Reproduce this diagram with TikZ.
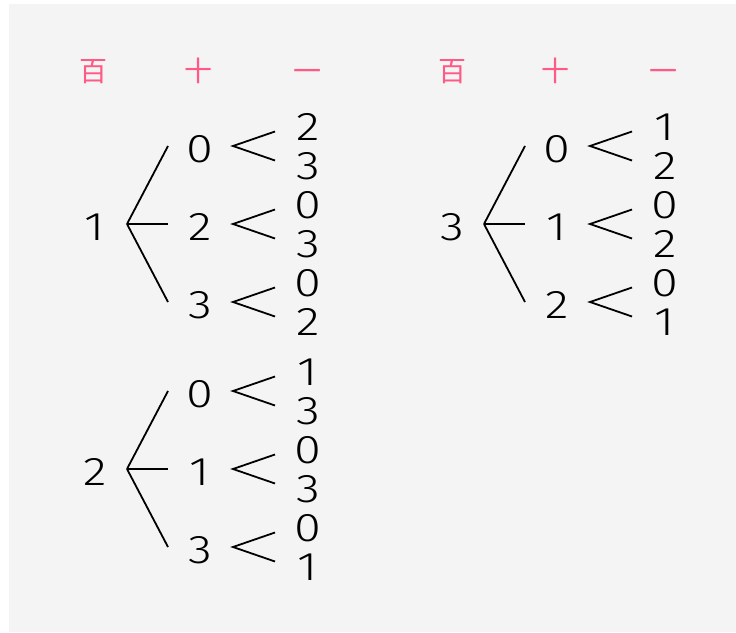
\documentclass[tikz,border=0pt]{standalone}
\usepackage{fontspec}
\newfontfamily\digitfont{Fira Sans Light}[FakeStretch=1.22]
\newfontfamily\cjkfont{Noto Sans CJK SC}
\definecolor{bggray}{HTML}{F4F4F4}
\definecolor{headpink}{HTML}{FF5A85}
\newcommand\treeblock[5]{%
  \begin{scope}[shift={(#2,#3)}]
    \coordinate (#1v) at (0,0);
    \node[digit] (#1r) at (-32,3) {#4};
    \foreach \t/\a/\b [count=\i] in {#5} {
      \pgfmathsetmacro\dy{(\i-2)*78}
      \coordinate (#1e\i) at (41,\dy);
      \draw[branch] (#1v) -- (#1e\i);
      \node[digit] (#1t\i) at (73,\dy+3) {\t};
      \coordinate (#1c\i) at (106,\dy);
      \coordinate (#1u\i) at (148,\dy-14.5);
      \coordinate (#1l\i) at (148,\dy+14.5);
      \draw[branch] (#1u\i) -- (#1c\i) -- (#1l\i);
      \node[digit] (#1a\i) at (181,\dy-19) {\a};
      \node[digit] (#1b\i) at (181,\dy+19.5) {\b};
    }
  \end{scope}}
\begin{document}
\begin{tikzpicture}[x=1pt,y=-1pt,
  digit/.style={font=\digitfont\fontsize{40}{40}\selectfont, inner sep=0pt, text height=27.5pt, text depth=0pt},
  head/.style={font=\cjkfont\fontsize{28}{28}\selectfont, text=headpink, inner sep=0pt, text height=24.6pt, text depth=3.4pt},
  branch/.style={draw=black, line width=1.8pt, line join=miter}]
\useasboundingbox (0,0) rectangle (736,632);
\fill[white] (0,0) rectangle (736,632);
\fill[bggray] (9,4) rectangle (736,632);
% headers
\node[head] (h1) at (93,71) {百};
\node[head] (h2) at (198,71) {十};
\node[head] (h3) at (307,71) {一};
\node[head] (k1) at (452,71) {百};
\node[head] (k2) at (555,71) {十};
\node[head] (k3) at (663,71) {一};
% trees
\treeblock{A}{127}{224}{1}{0/2/3, 2/0/3, 3/0/2}
\treeblock{B}{127}{469}{2}{0/1/3, 1/0/3, 3/0/1}
\treeblock{C}{484}{224}{3}{0/1/2, 1/0/2, 2/0/1}
\end{tikzpicture}
\end{document}
